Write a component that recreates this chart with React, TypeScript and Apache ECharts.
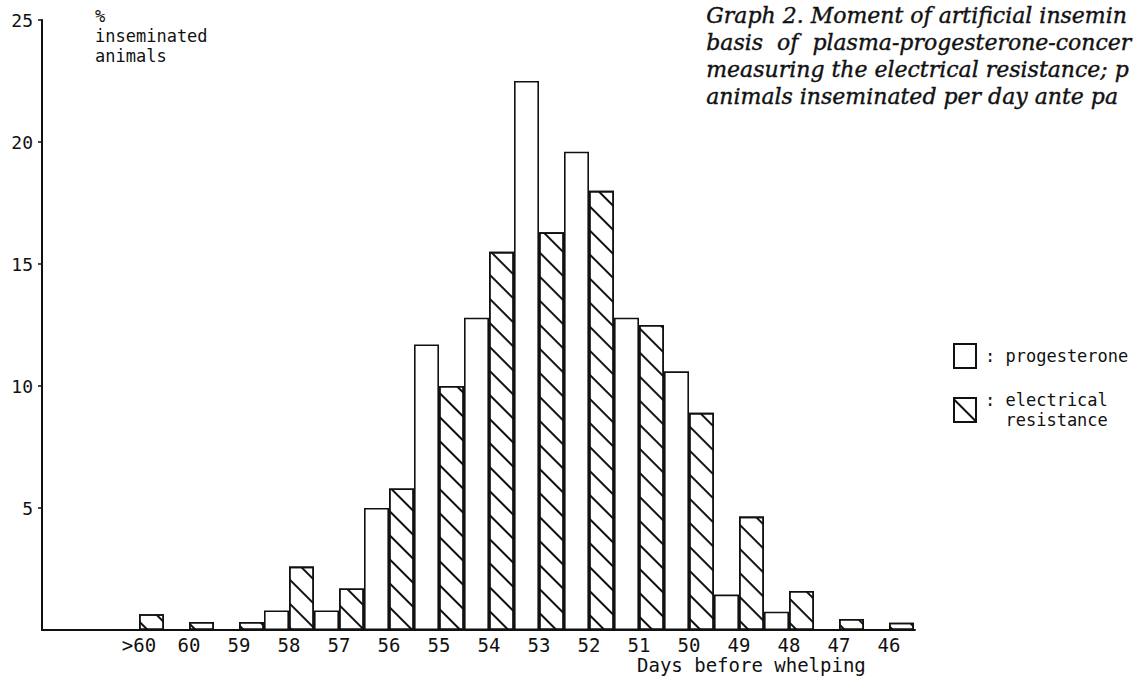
import React, { useEffect, useRef } from 'react';
import * as echarts from 'echarts';

// Days before whelping (category labels, left to right)
const categories = ['>60', '60', '59', '58', '57', '56', '55', '54', '53', '52', '51', '50', '49', '48', '47', '46'];
// % inseminated animals, progesterone method (white bars)
const progesterone = [0, 0, 0, 0.8, 0.8, 5.0, 11.7, 12.8, 22.5, 19.6, 12.8, 10.6, 1.45, 0.75, 0, 0];
// % inseminated animals, electrical resistance method (hatched bars)
const electrical = [0.65, 0.33, 0.33, 2.6, 1.7, 5.8, 10.0, 15.5, 16.3, 18.0, 12.5, 8.9, 4.65, 1.6, 0.45, 0.3];
// y-axis ticks
const yMin = 0;
const yMax = 25;
const yStep = 5;

const titleLines = [
  'Graph 2. Moment of artificial insemin',
  'basis  of  plasma-progesterone-concer',
  'measuring the electrical resistance; p',
  'animals inseminated per day ante pa',
];
const yName = '%\ninseminated\nanimals';
const xName = 'Days before whelping';
const seriesNames = ['progesterone', 'electrical resistance'];

export default function App() {
  const ref = useRef<HTMLDivElement>(null);

  useEffect(() => {
    if (!ref.current) return;
    const chart = echarts.init(ref.current, null, { renderer: 'svg' });
    const mono = "'DejaVu Sans Mono', 'Liberation Mono', monospace";
    const ink = '#111';
    const hatch = {
      symbol: 'rect',
      symbolSize: 1,
      color: ink,
      dashArrayX: [1, 0],
      dashArrayY: [1.4, 15],
      rotation: Math.PI / 4,
    };

    chart.setOption({
      animation: false,
      backgroundColor: '#ffffff',
      grid: { left: 42, right: 222, top: 20, bottom: 47 },
      xAxis: {
        type: 'value',
        min: -1.94,
        max: 15.52,
        splitLine: { show: false },
        axisLine: { show: true, onZero: false, lineStyle: { color: ink, width: 2 } },
        axisTick: { show: false },
        axisLabel: {
          customValues: categories.map((_, i) => i),
          formatter: (v: number) => categories[Math.round(v)] ?? '',
          fontFamily: mono,
          fontSize: 19,
          color: ink,
          margin: 5,
        },
      },
      yAxis: {
        type: 'value',
        min: yMin,
        max: yMax,
        interval: yStep,
        splitLine: { show: false },
        axisLine: { show: true, onZero: false, lineStyle: { color: ink, width: 2 } },
        axisTick: { show: true, length: 4, lineStyle: { color: ink, width: 1.5 } },
        axisLabel: {
          showMinLabel: false,
          fontFamily: mono,
          fontSize: 18,
          color: ink,
          margin: 9,
        },
      },
      legend: {
        orient: 'vertical',
        left: 953,
        top: 343,
        padding: 0,
        itemWidth: 22,
        itemHeight: 24,
        itemGap: 11,
        icon: 'rect',
        selectedMode: false,
        textStyle: { fontFamily: mono, fontSize: 17, color: ink, lineHeight: 20 },
        formatter: (name: string) =>
          name === seriesNames[1] ? ': electrical\n  resistance' : ': ' + name,
        data: [
          { name: seriesNames[0], textStyle: { padding: [0, 0, 0, 4] } },
          { name: seriesNames[1], textStyle: { padding: [20, 0, 0, 4] } },
        ],
      },
      series: [
        {
          name: seriesNames[0],
          type: 'bar',
          barWidth: 25,
          barGap: '0%',
          data: progesterone.map((v, i) => [i, v]),
          itemStyle: { color: '#ffffff', borderColor: ink, borderWidth: 1.6 },
        },
        {
          name: seriesNames[1],
          type: 'bar',
          barWidth: 25,
          barGap: '0%',
          data: electrical.map((v, i) => [i, v]),
          itemStyle: { color: '#ffffff', borderColor: ink, borderWidth: 1.6, decal: hatch },
        },
      ],
      graphic: [
        ...titleLines.map((t, i) => ({
          type: 'text',
          left: 706,
          top: 4 + i * 27,
          style: {
            text: t,
            fontFamily: "'DejaVu Serif', 'Liberation Serif', serif",
            fontStyle: 'italic',
            fontSize: 22,
            fill: ink,
            stroke: ink,
            lineWidth: 0.4,
          },
        })),
        {
          type: 'text',
          left: 95,
          top: 6,
          style: { text: yName, fontFamily: mono, fontSize: 17, lineHeight: 20, fill: ink },
        },
        {
          type: 'text',
          left: 637,
          top: 655,
          style: { text: xName, fontFamily: mono, fontSize: 19, fill: ink },
        },
      ],
    });

    return () => chart.dispose();
  }, []);

  return (
    <div
      ref={ref}
      style={{ position: 'fixed', left: 0, top: 0, width: '1137px', height: '677px', background: '#fff' }}
    />
  );
}
